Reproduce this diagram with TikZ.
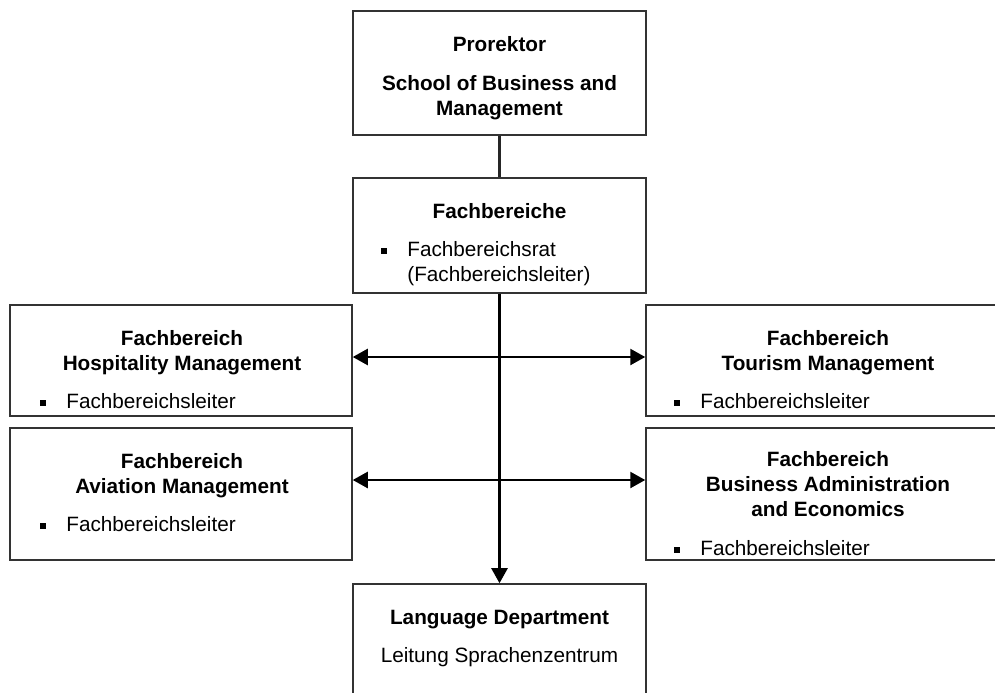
\documentclass[tikz,border=0pt]{standalone}
\usepackage{fontspec}
\setmainfont{Liberation Sans}
\usetikzlibrary{arrows.meta}
\usetikzlibrary{positioning}
\newcommand{\orgfont}{\fontsize{11.8}{14.2}\selectfont}
\newcommand{\sqitem}{\raisebox{1.5pt}{\rule{3.2pt}{3.2pt}}\hspace{11.6pt}}
\tikzset{
  box/.style={rectangle, draw=black!80, line width=0.9pt},
  title/.style={anchor=north, inner sep=0pt, align=center, font=\orgfont\bfseries},
  item/.style={anchor=north west, inner sep=0pt, align=left, font=\orgfont},
  link/.style={draw=black!85, line width=1.2pt},
  arrow/.style={draw, -{Triangle[length=3mm, width=3.2mm]}, line width=1.4pt},
  biarrow/.style={draw, {Triangle[length=3mm, width=3.2mm]}-{Triangle[length=3mm, width=3.2mm]}, line width=1.4pt}
  }

\begin{document}
\begin{tikzpicture}[x=0.02cm, y=-0.02cm]
	% Frame
	\useasboundingbox (0,0) rectangle (995,693);
	\clip (0,0) rectangle (995,693);

	% Boxes
	\node[box, minimum width=5.86cm, minimum height=2.48cm] (prorektor) at (499.5,73) {};
	\node[box, minimum width=5.86cm, minimum height=2.30cm] (fb) at (499.5,235.5) {};
	\node[box, minimum width=6.84cm, minimum height=2.22cm] (hosp) at (181,360.5) {};
	\node[box, minimum width=6.84cm, minimum height=2.64cm] (avi) at (181,494) {};
	\node[box, minimum width=7.28cm, minimum height=2.22cm] (tour) at (828,360.5) {};
	\node[box, minimum width=7.28cm, minimum height=2.64cm] (bae) at (828,494) {};
	\node[box, minimum width=5.86cm, minimum height=2.72cm] (lang) at (499.5,652) {};

	% Texts
	\node[title] (t-pro) at (499.5,36) {Prorektor\\[7.9pt]School of Business and\\Management};
	\node[title] (t-fb) at (499.5,203) {Fachbereiche};
	\node[item] (i-fb) at (381,241) {\sqitem Fachbereichsrat\\\phantom{\sqitem}(Fachbereichsleiter)};
	\node[title] (t-hosp) at (182,330) {Fachbereich\\Hospitality Management};
	\node[item] (i-hosp) at (40,393) {\sqitem Fachbereichsleiter};
	\node[title] (t-avi) at (182,453) {Fachbereich\\Aviation Management};
	\node[item] (i-avi) at (40,516) {\sqitem Fachbereichsleiter};
	\node[title] (t-tour) at (828,330) {Fachbereich\\Tourism Management};
	\node[item] (i-tour) at (674,393) {\sqitem Fachbereichsleiter};
	\node[title] (t-bae) at (828,451) {Fachbereich\\Business Administration\\and Economics};
	\node[item] (i-bae) at (674,540) {\sqitem Fachbereichsleiter};
	\node[title] (t-lang) at (499.5,610) {Language Department\\[7.4pt]\textmd{Leitung Sprachenzentrum}};

	% Arrow
	\draw[link] (prorektor) -- (fb);
	\draw[arrow] (fb) -- (lang);
	\draw[biarrow] ([yshift=0.07cm]hosp.east) -- ([yshift=0.07cm]tour.west);
	\draw[biarrow] ([yshift=0.28cm]avi.east) -- ([yshift=0.28cm]bae.west);
\end{tikzpicture}
\end{document}
